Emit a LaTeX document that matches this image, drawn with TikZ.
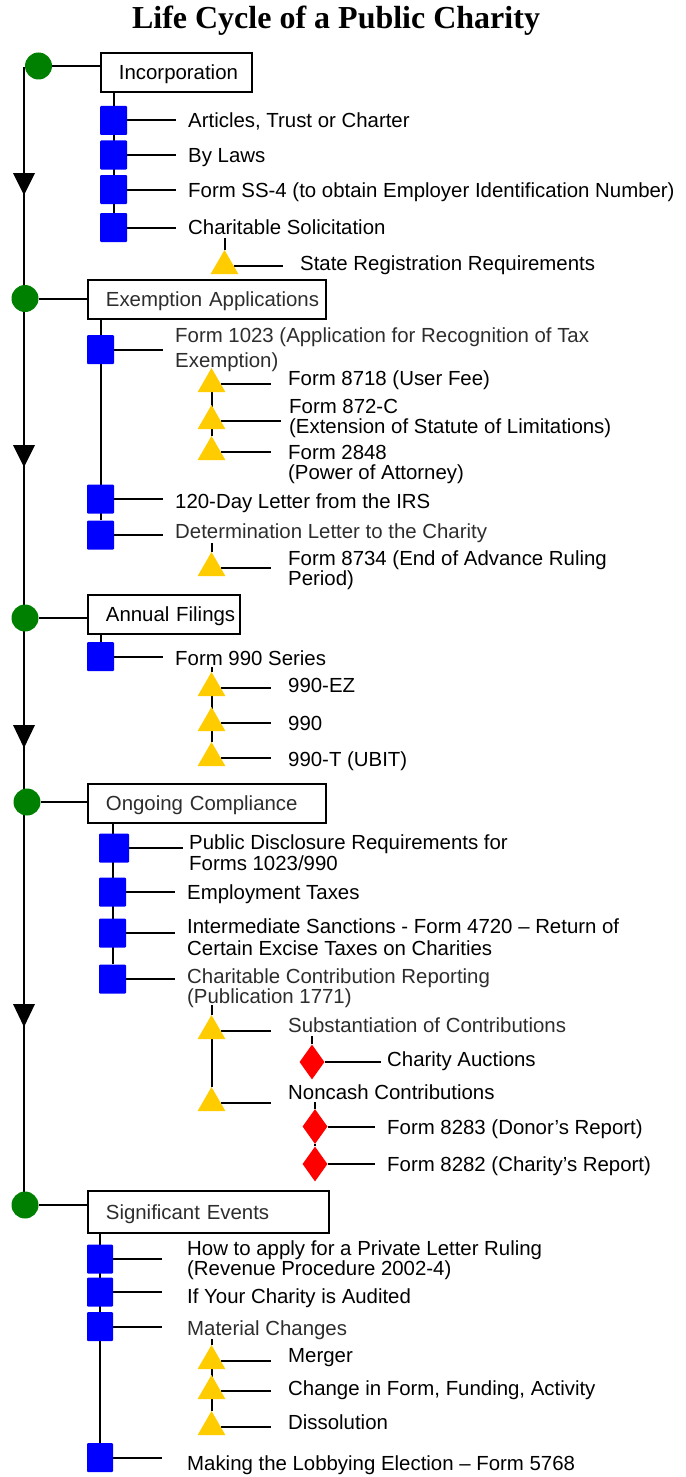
\documentclass[tikz,border=0pt]{standalone}
\usepackage{fontspec}
\setmainfont{Liberation Sans}
\newfontfamily\titlefont{Liberation Serif}
\usetikzlibrary{shapes.geometric,backgrounds}
\definecolor{sqblue}{RGB}{0,0,255}
\definecolor{triyel}{RGB}{255,204,0}
\definecolor{dgreen}{RGB}{0,128,0}
\definecolor{gtext}{RGB}{45,45,45}
\begin{document}
\begin{tikzpicture}[x=1pt,y=-1pt,
  every node/.style={inner sep=0pt},
  lbl/.style={anchor=base west, font=\fontsize{20.4}{20.4}\selectfont},
  glbl/.style={lbl, text=gtext},
  hd/.style={draw, line width=1.8pt, anchor=west, minimum height=39pt, inner xsep=18pt, align=left, text height=14.6pt, text depth=0pt, font=\fontsize{20.4}{20.4}\selectfont},
  sqr/.style={fill=sqblue, minimum width=27pt, minimum height=29pt, rounded corners=1pt},
  tri/.style={regular polygon, regular polygon sides=3, fill=triyel, minimum size=32pt},
  dia/.style={diamond, fill=red, minimum width=25pt, minimum height=35pt},
  dot/.style={circle, fill=dgreen, minimum size=27pt},
  ln/.style={line width=2pt},
  dnarrow/.style={fill=black}
]
\useasboundingbox (0,0) rectangle (685,1477);

% title
\node[font=\titlefont\fontsize{32}{32}\selectfont\bfseries, anchor=base] (title) at (336,29) {Life Cycle of a Public Charity};

% ---------- Section 1
\node[dot] (c1) at (38.5,66) {};
\node[hd, text width=115pt] (b1) at (100,72.5) {\mbox{Incorporation}};
\node[sqr] (s11) at (113.5,120.5) {};
\node[sqr] (s12) at (113.5,155) {};
\node[sqr] (s13) at (113.5,189.5) {};
\node[sqr] (s14) at (113.5,227.5) {};
\node[lbl] (l11) at (188,128) {Articles, Trust or Charter};
\node[lbl] (l12) at (188,162) {By Laws};
\node[lbl] (l13) at (188,197) {Form SS-4 (to obtain Employer Identification Number)};
\node[lbl] (l14) at (188,234) {Charitable Solicitation};
\node[tri] (t11) at (224.5,266) {};
\node[lbl] (l15) at (300,270) {State Registration Requirements};

% ---------- Section 2
\node[dot] (c2) at (25,298.5) {};
\node[hd, text width=202pt, text=gtext] (b2) at (87,299.5) {\mbox{Exemption Applications}};
\node[sqr] (s21) at (100.5,349.5) {};
\node[sqr] (s22) at (100.5,499) {};
\node[sqr] (s23) at (100.5,535) {};
\node[glbl] (l21a) at (175,342) {Form 1023 (Application for Recognition of Tax};
\node[glbl] (l21b) at (175,367) {Exemption)};
\node[tri] (t21) at (211.5,384) {};
\node[tri] (t22) at (211.5,421) {};
\node[tri] (t23) at (211.5,452) {};
\node[lbl] (l22) at (288,385) {Form 8718 (User Fee)};
\node[lbl] (l23a) at (289,413) {Form 872-C};
\node[lbl] (l23b) at (289,433) {(Extension of Statute of Limitations)};
\node[lbl] (l24a) at (288,459) {Form 2848};
\node[lbl] (l24b) at (288,479) {(Power of Attorney)};
\node[lbl] (l25) at (175,508) {120-Day Letter from the IRS};
\node[glbl] (l26) at (175,538) {Determination Letter to the Charity};
\node[tri] (t24) at (211.5,568) {};
\node[lbl] (l27a) at (288,565) {Form 8734 (End of Advance Ruling};
\node[lbl] (l27b) at (288,585) {Period)};

% ---------- Section 3
\node[dot] (c3) at (25,618) {};
\node[hd, text width=116pt] (b3) at (87,614.5) {\mbox{Annual Filings}};
\node[sqr] (s31) at (100.5,656.5) {};
\node[lbl] (l31) at (175,665) {Form 990 Series};
\node[tri] (t31) at (211.5,688) {};
\node[tri] (t32) at (211.5,723) {};
\node[tri] (t33) at (211.5,758) {};
\node[lbl] (l32) at (288,692) {990-EZ};
\node[lbl] (l33) at (288,730) {990};
\node[lbl] (l34) at (288,766) {990-T (UBIT)};

% ---------- Section 4
\node[dot] (c4) at (27,802) {};
\node[hd, text width=202pt, text=gtext] (b4) at (87,803.5) {\mbox{Ongoing Compliance}};
\node[sqr, minimum width=30pt] (s41) at (114,848) {};
\node[sqr] (s42) at (112.5,892) {};
\node[sqr] (s43) at (112.5,933) {};
\node[sqr] (s44) at (112.5,979) {};
\node[lbl] (l41a) at (189,849) {Public Disclosure Requirements for};
\node[lbl] (l41b) at (189,870) {Forms 1023/990};
\node[lbl] (l42) at (187,899) {Employment Taxes};
\node[lbl] (l43a) at (187,933) {Intermediate Sanctions - Form 4720 – Return of};
\node[lbl] (l43b) at (187,955) {Certain Excise Taxes on Charities};
\node[glbl] (l44a) at (187,983) {Charitable Contribution Reporting};
\node[glbl] (l44b) at (187,1003) {(Publication 1771)};
\node[tri] (t41) at (211.5,1031) {};
\node[tri] (t42) at (211.5,1103) {};
\node[glbl] (l45) at (288,1032) {Substantiation of Contributions};
\node[lbl] (l46) at (288,1099) {Noncash Contributions};
\node[dia] (d1) at (312,1062) {};
\node[dia] (d2) at (315,1126.5) {};
\node[dia] (d3) at (315,1164) {};
\node[lbl] (l47) at (387,1066) {Charity Auctions};
\node[lbl] (l48) at (387,1134) {Form 8283 (Donor’s Report)};
\node[lbl] (l49) at (387,1171) {Form 8282 (Charity’s Report)};

% ---------- Section 5
\node[dot] (c5) at (25,1205) {};
\node[hd, text width=205pt, minimum height=42pt, text=gtext] (b5) at (87,1212) {\mbox{Significant Events}};
\node[sqr, minimum width=26pt] (s51) at (100,1259) {};
\node[sqr, minimum width=26pt] (s52) at (100,1292) {};
\node[sqr, minimum width=26pt] (s53) at (100,1326.5) {};
\node[sqr, minimum width=26pt] (s54) at (100,1457.5) {};
\node[lbl] (l51a) at (187,1255) {How to apply for a Private Letter Ruling};
\node[lbl] (l51b) at (187,1275) {(Revenue Procedure 2002-4)};
\node[lbl] (l52) at (187,1303) {If Your Charity is Audited};
\node[glbl] (l53) at (187,1335) {Material Changes};
\node[tri] (t51) at (211.5,1361) {};
\node[tri] (t52) at (211.5,1391) {};
\node[tri] (t53) at (211.5,1427) {};
\node[lbl] (l54) at (288,1362) {Merger};
\node[lbl] (l55) at (288,1395) {Change in Form, Funding, Activity};
\node[lbl] (l56) at (288,1429) {Dissolution};
\node[lbl] (l57) at (187,1470) {Making the Lobbying Election – Form 5768};

\begin{scope}[on background layer]
  \fill[white] (0,0) rectangle (685,1477);
  % main timeline
  \coordinate (top) at (24,67);
  \draw[ln] (top) -- (top |- c5);
  \fill[dnarrow] (13,173) -- (35,173) -- (24,195) -- cycle;
  \fill[dnarrow] (13,445) -- (35,445) -- (24,467) -- cycle;
  \fill[dnarrow] (13,725) -- (35,725) -- (24,748) -- cycle;
  \fill[dnarrow] (13,1004) -- (35,1004) -- (24,1027) -- cycle;
  % circle to box
  \draw[ln] (c1) -- (c1 -| b1.west);
  \draw[ln] (c2) -- (c2 -| b2.west);
  \draw[ln] (c3) -- (c3 -| b3.west);
  \draw[ln] (c4) -- (c4 -| b4.west);
  \draw[ln] (c5) -- (c5 -| b5.west);
  % section 1
  \draw[ln] (s11 |- b1.south) -- (s14);
  \foreach \s in {s11,s12,s13,s14} \draw[ln] (\s) -- ++(62.5,0);
  \draw[ln] (t11.north) -- ++(0,-12);
  \draw[ln] (t11) -- ++(58.5,0);
  % section 2
  \draw[ln] (s21 |- b2.south) -- (s23);
  \foreach \s in {s21,s22,s23} \draw[ln] (\s) -- ++(62.5,0);
  \draw[ln] (t21) -- (t23);
  \draw[ln] (t21) -- ++(59.5,0);
  \draw[ln] (t22) -- ++(69.5,0);
  \draw[ln] (t23) -- ++(59.5,0);
  \draw[ln] (t24.north) -- ++(0,-9);
  \draw[ln] (t24) -- ++(59.5,0);
  % section 3
  \draw[ln] (s31 |- b3.south) -- (s31);
  \draw[ln] (s31) -- ++(62.5,0);
  \draw[ln] (t31.north) -- ++(0,-5);
  \draw[ln] (t31) -- (t33);
  \foreach \t in {t31,t32,t33} \draw[ln] (\t) -- ++(59.5,0);
  % section 4
  \draw[ln] (s42 |- b4.south) -- (s44);
  \draw[ln] (s41) -- ++(69,0);
  \foreach \s in {s42,s43,s44} \draw[ln] (\s) -- ++(62.5,0);
  \draw[ln] (t41.north) -- ++(0,-10);
  \draw[ln] (t41) -- (t42);
  \foreach \t in {t41,t42} \draw[ln] (\t) -- ++(59.5,0);
  \draw[ln] (d1.north) -- ++(0,-8);
  \draw[ln] (d1) -- ++(69,0);
  \draw[ln] (d2.north) -- ++(0,-7);
  \draw[ln] (d2) -- (d3);
  \draw[ln] (d2) -- ++(60,0);
  \draw[ln] (d3) -- ++(60,0);
  % section 5
  \draw[ln] (s51 |- b5.south) -- (s54);
  \foreach \s in {s51,s52,s53,s54} \draw[ln] (\s) -- ++(62,0);
  \draw[ln] (t51.north) -- ++(0,-6);
  \draw[ln] (t51) -- (t53);
  \foreach \t in {t51,t52,t53} \draw[ln] (\t) -- ++(59.5,0);
\end{scope}
\end{tikzpicture}
\end{document}
